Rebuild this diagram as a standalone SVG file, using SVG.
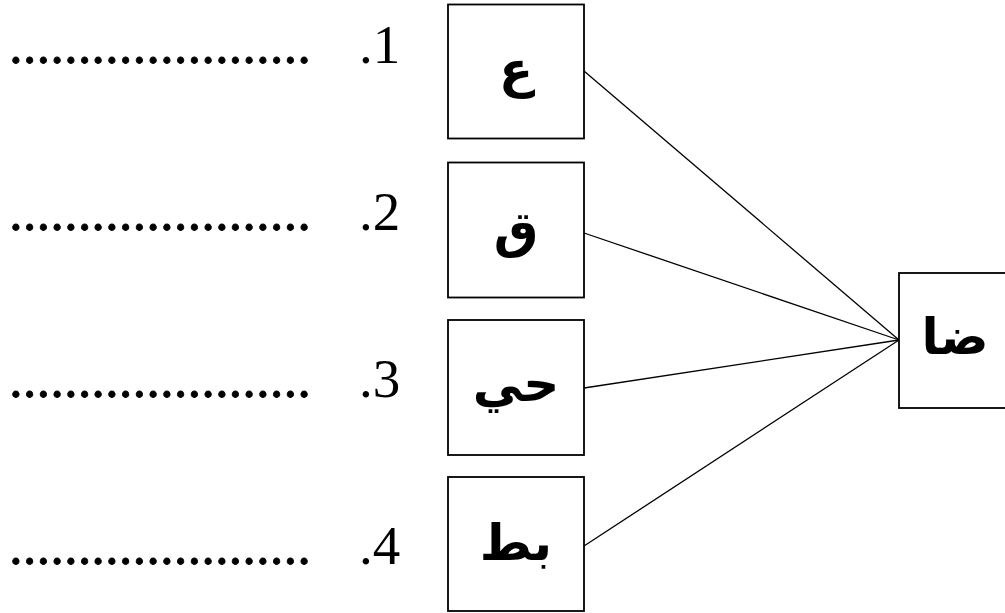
<svg xmlns="http://www.w3.org/2000/svg" width="1005" height="613" viewBox="0 0 1005 613">
<style>
.box{fill:#fff;stroke:#000;stroke-width:1.8}
.num{font-family:"Liberation Serif","Times New Roman",serif;font-size:55px;fill:#000}
.dots{font-family:"Liberation Serif","Times New Roman",serif;font-size:55px;fill:#000;stroke:#000;stroke-width:0.8}
.ar{font-family:"DejaVu Sans",sans-serif;font-weight:bold;font-size:50px;fill:#000;text-anchor:middle}
.conn line{stroke:#000;stroke-width:1.3}
</style>
<rect width="1005" height="613" fill="#fff"/>
<g id="connectors" class="conn">
<line x1="584" y1="71" x2="899" y2="340"/>
<line x1="584" y1="233" x2="899" y2="340"/>
<line x1="584" y1="388" x2="899" y2="340"/>
<line x1="584" y1="546" x2="899" y2="340"/>
</g>
<g id="node1"><rect class="box" x="448" y="4.5" width="136" height="134"/><text class="ar" x="516" y="87">ع</text></g>
<g id="node2"><rect class="box" x="448" y="162.5" width="136" height="135"/><text class="ar" x="516" y="247">ق</text></g>
<g id="node3"><rect class="box" x="448" y="320" width="136" height="135"/><text class="ar" x="516" y="401">حي</text></g>
<g id="node4"><rect class="box" x="448" y="477" width="136" height="134"/><text class="ar" x="516" y="560">بط</text></g>
<g id="node5"><rect class="box" x="899" y="273" width="120" height="135"/><text class="ar" x="955" y="354">ضا</text></g>
<g id="labels">
<text class="dots" x="9" y="63" textLength="302" lengthAdjust="spacing">......................</text>
<text class="num" x="359" y="63">.1</text>
<text class="dots" x="9" y="230" textLength="302" lengthAdjust="spacing">......................</text>
<text class="num" x="359" y="230">.2</text>
<text class="dots" x="9" y="397" textLength="302" lengthAdjust="spacing">......................</text>
<text class="num" x="359" y="397">.3</text>
<text class="dots" x="9" y="564" textLength="302" lengthAdjust="spacing">......................</text>
<text class="num" x="359" y="564">.4</text>
</g>
</svg>
